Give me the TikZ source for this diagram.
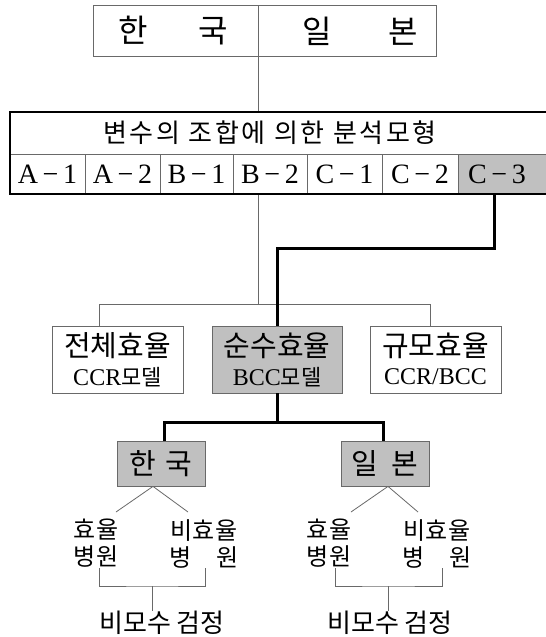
\documentclass[tikz,border=0pt]{standalone}
\usepackage{fontspec}
\setmainfont{Liberation Serif}
\newfontfamily\kr{Noto Sans CJK KR}
\definecolor{boxgray}{RGB}{192,192,192}
\definecolor{linegray}{RGB}{105,105,105}
\begin{document}
\begin{tikzpicture}[x=1pt,y=-1pt,
  thinl/.style={draw=linegray,line width=0.8pt},
  thickl/.style={draw=black,line width=3pt},
  frame/.style={rectangle,draw=linegray,line width=0.8pt,inner sep=0pt},
  shaded/.style={frame,fill=boxgray},
  cell/.style={frame,minimum height=40pt,font=\fontsize{28}{28}\selectfont},
  txt/.style={inner sep=0pt,align=center}]
\useasboundingbox (0,0) rectangle (546,637);
\fill[white] (0,0) rectangle (546,637);

% top box
\node[frame,minimum width=165pt,minimum height=51pt] (tk) at (175.5,30.5) {};
\node[frame,minimum width=178pt,minimum height=51pt] (tj) at (347,30.5) {};
\node[txt] (tkt) at (173.5,31) {\kr\fontsize{32}{32}\selectfont 한\hspace{51pt}국};
\node[txt] (tjt) at (360,31) {\kr\fontsize{32}{32}\selectfont 일\hspace{57pt}본};

% model box
\node[txt] (mt) at (270,133) {\kr\addfontfeature{LetterSpace=10}\fontsize{26}{26}\selectfont 변수의 조합에 의한 분석모형};
\node[cell,minimum width=75pt] (c1) at (47.5,174) {A\,−\,1};
\node[cell,minimum width=75pt] (c2) at (122.5,174) {A\,−\,2};
\node[cell,minimum width=73pt] (c3) at (196.5,174) {B\,−\,1};
\node[cell,minimum width=74pt] (c4) at (270,174) {B\,−\,2};
\node[cell,minimum width=75pt] (c5) at (344.5,174) {C\,−\,1};
\node[cell,minimum width=76pt] (c6) at (420,174) {C\,−\,2};
\node[cell,fill=boxgray,minimum width=90pt] (c7) at (503,174) {};
\node[txt,font=\fontsize{28}{28}\selectfont] (c7t) at (497,174) {C\,−\,3};
\node[rectangle,draw=black,line width=2pt,minimum width=538pt,minimum height=82pt,inner sep=0pt] (model) at (279,153) {};

% level 2 boxes
\node[frame,minimum width=131pt,minimum height=67pt] (b1) at (117.5,359.5) {};
\node[shaded,minimum width=130pt,minimum height=67pt] (b2) at (277,359.5) {};
\node[frame,minimum width=131pt,minimum height=67pt] (b3) at (435.5,359.5) {};
\node[txt] (b1t) at (117.5,346) {\kr\fontsize{29}{29}\selectfont 전체효율};
\node[txt] (b1s) at (117.5,377) {\fontsize{24}{24}\selectfont CCR{\kr\fontsize{22}{22}\selectfont 모델}};
\node[txt] (b2t) at (277,346) {\kr\fontsize{29}{29}\selectfont 순수효율};
\node[txt] (b2s) at (277,377) {\fontsize{24}{24}\selectfont BCC{\kr\fontsize{22}{22}\selectfont 모델}};
\node[txt] (b3t) at (435.5,346) {\kr\fontsize{29}{29}\selectfont 규모효율};
\node[txt] (b3s) at (435.5,377) {\fontsize{24}{24}\selectfont CCR/BCC};

% country boxes
\node[shaded,minimum width=88pt,minimum height=45pt] (k) at (161,463.5) {\kr\fontsize{29}{29}\selectfont 한\hspace{9pt}국};
\node[shaded,minimum width=88pt,minimum height=45pt] (j) at (385,463.5) {\kr\fontsize{29}{29}\selectfont 일\hspace{13pt}본};

% leaf texts
\node[txt,font=\kr\fontsize{24}{27}\selectfont] (ke) at (96,543.5) {효율\\병원};
\node[txt,font=\kr\fontsize{24}{27}\selectfont] (kn) at (204,543.5) {비효율\\병\hspace{24pt}원};
\node[txt,font=\kr\fontsize{24}{27}\selectfont] (je) at (329,543.5) {효율\\병원};
\node[txt,font=\kr\fontsize{24}{27}\selectfont] (jn) at (437,543.5) {비효율\\병\hspace{24pt}원};
\node[txt,font=\kr\fontsize{26}{26}\selectfont] (kt) at (162,623) {비모수 검정};
\node[txt,font=\kr\fontsize{26}{26}\selectfont] (jt) at (390,623) {비모수 검정};

% coordinates
\coordinate (busL) at (99,304);
\coordinate (busM) at (258,304);
\coordinate (busR) at (430,304);
\coordinate (turn) at (494,248);
\coordinate (kbL) at (164,422);
\coordinate (kbR) at (383,422);
\coordinate (kdl) at (116,512);
\coordinate (kdr) at (188,512);
\coordinate (jdl) at (351,512);
\coordinate (jdr) at (418,512);
\coordinate (kbr1) at (99,568);
\coordinate (kbr2) at (205,568);
\coordinate (kbrm) at (152,586);
\coordinate (jbr1) at (335,568);
\coordinate (jbr2) at (442,568);
\coordinate (jbrm) at (388,586);

% thin connectors
\draw[thinl] (tk.south east) -- (model.north -| tk.south east);
\draw[thinl] (model.south -| busM) -- (busM);
\draw[thinl] (b1.north -| busL) -- (busL) -- (busR) -- (b3.north -| busR);
\draw[thinl] ([xshift=-8pt]k.south) -- (kdl);
\draw[thinl] ([xshift=-8pt]k.south) -- (kdr);
\draw[thinl] ([xshift=3pt]j.south) -- (jdl);
\draw[thinl] ([xshift=3pt]j.south) -- (jdr);
\draw[thinl] (kbr1) |- (kbrm) -| (kbr2);
\draw[thinl] (kbrm) -- (kt.north -| kbrm);
\draw[thinl] (jbr1) |- (jbrm) -| (jbr2);
\draw[thinl] (jbrm) -- (jt.north -| jbrm);

% thick connectors
\draw[thickl] (c7.south -| turn) -- (turn) -| (b2.north);
\draw[thickl] (b2.south) -- (b2.south |- kbL);
\draw[thickl] (k.north -| kbL) -- (kbL) -- (kbR) -- (j.north -| kbR);
\end{tikzpicture}
\end{document}
